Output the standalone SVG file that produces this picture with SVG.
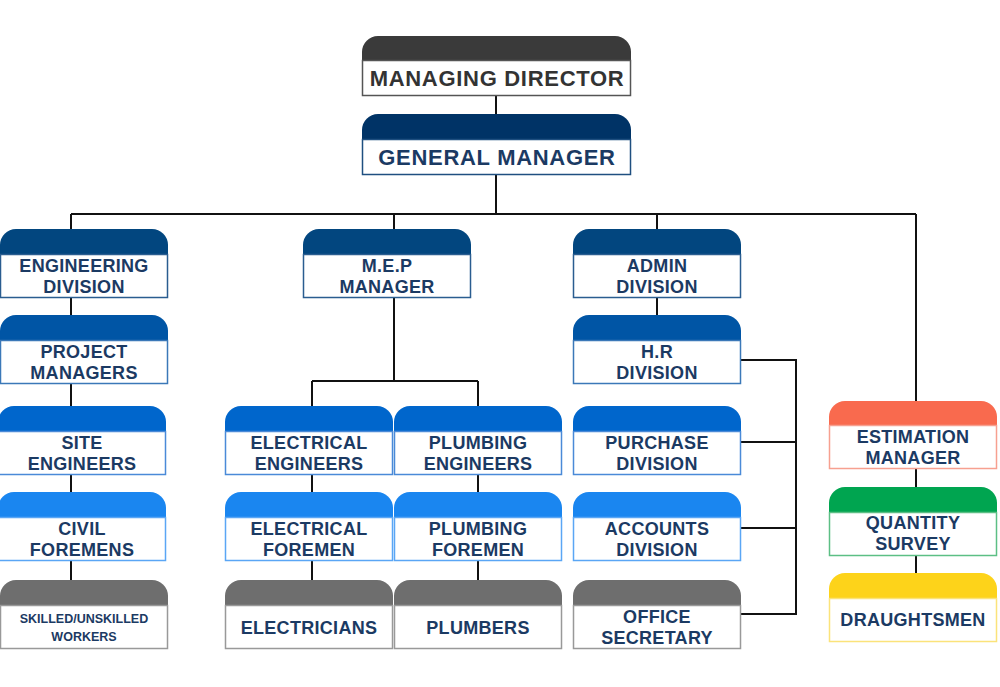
<svg xmlns="http://www.w3.org/2000/svg" width="1000" height="687" viewBox="0 0 1000 687">
<style>
text{font-family:"Liberation Sans",Arial,sans-serif;font-weight:bold;font-size:18px;letter-spacing:0.3px;fill:#1b3a63;text-anchor:middle}
.big{font-size:22px;letter-spacing:0.7px}
.box{fill:#fff;stroke-width:1.5}
#conn path{fill:none;stroke:#111;stroke-width:2}
</style>
<defs>
<path id="h" d="M0,25 V16 A16,16 0 0 1 16,0 H152 A16,16 0 0 1 168,16 V25 Z"/>
<path id="hw" d="M0,25 V16 A16,16 0 0 1 16,0 H253 A16,16 0 0 1 269,16 V25 Z"/>
</defs>
<g id="conn">
<path d="M496,96V114M496,175V214M71,214H916M71,214V229M394,214V229M657,214V229M916,214V401"/>
<path d="M71,298V580M394,298V381M312,381H478M312,381V406M478,381V406M312,475V580M478,475V580"/>
<path d="M657,298V315M741,360H796V614H741M741,442H796M741,528H796M916,469V573"/>
</g>
<g id="md"><use href="#hw" x="362" y="36" fill="#3a3a3a"/><rect class="box" x="362.5" y="60.5" width="268" height="35" stroke="#555"/><text class="big" x="497" y="86" style="fill:#333">MANAGING DIRECTOR</text></g>
<g id="gm"><use href="#hw" x="362" y="114" fill="#003366"/><rect class="box" x="362.5" y="139.5" width="268" height="35" stroke="#1f4f80"/><text class="big" x="497" y="165">GENERAL MANAGER</text></g>

<g id="eng"><use href="#h" x="0" y="229" fill="#02467f"/><rect class="box" x="0.5" y="254.5" width="167" height="43" stroke="#2a5d90"/><text x="84" y="272">ENGINEERING</text><text x="84" y="293">DIVISION</text></g>
<g id="mep"><use href="#h" x="303" y="229" fill="#02467f"/><rect class="box" x="303.5" y="254.5" width="167" height="43" stroke="#2a5d90"/><text x="387" y="272">M.E.P</text><text x="387" y="293">MANAGER</text></g>
<g id="admin"><use href="#h" x="573" y="229" fill="#02467f"/><rect class="box" x="573.5" y="254.5" width="167" height="43" stroke="#2a5d90"/><text x="657" y="272">ADMIN</text><text x="657" y="293">DIVISION</text></g>

<g id="pm"><use href="#h" x="0" y="315" fill="#0055a5"/><rect class="box" x="0.5" y="340.5" width="167" height="43" stroke="#3b78b8"/><text x="84" y="358">PROJECT</text><text x="84" y="379">MANAGERS</text></g>
<g id="hr"><use href="#h" x="573" y="315" fill="#0055a5"/><rect class="box" x="573.5" y="340.5" width="167" height="43" stroke="#3b78b8"/><text x="657" y="358">H.R</text><text x="657" y="379">DIVISION</text></g>

<g id="site"><use href="#h" x="-2" y="406" fill="#0066cc"/><rect class="box" x="-1.5" y="431.5" width="167" height="43" stroke="#4a8ad8"/><text x="82" y="449">SITE</text><text x="82" y="470">ENGINEERS</text></g>
<g id="eleceng"><use href="#h" x="225" y="406" fill="#0066cc"/><rect class="box" x="225.5" y="431.5" width="167" height="43" stroke="#4a8ad8"/><text x="309" y="449">ELECTRICAL</text><text x="309" y="470">ENGINEERS</text></g>
<g id="plumbeng"><use href="#h" x="394" y="406" fill="#0066cc"/><rect class="box" x="394.5" y="431.5" width="167" height="43" stroke="#4a8ad8"/><text x="478" y="449">PLUMBING</text><text x="478" y="470">ENGINEERS</text></g>
<g id="purchase"><use href="#h" x="573" y="406" fill="#0066cc"/><rect class="box" x="573.5" y="431.5" width="167" height="43" stroke="#4a8ad8"/><text x="657" y="449">PURCHASE</text><text x="657" y="470">DIVISION</text></g>

<g id="civil"><use href="#h" x="-2" y="492" fill="#1a86f0"/><rect class="box" x="-1.5" y="517.5" width="167" height="43" stroke="#5aa6f5"/><text x="82" y="535">CIVIL</text><text x="82" y="556">FOREMENS</text></g>
<g id="elecfor"><use href="#h" x="225" y="492" fill="#1a86f0"/><rect class="box" x="225.5" y="517.5" width="167" height="43" stroke="#5aa6f5"/><text x="309" y="535">ELECTRICAL</text><text x="309" y="556">FOREMEN</text></g>
<g id="plumbfor"><use href="#h" x="394" y="492" fill="#1a86f0"/><rect class="box" x="394.5" y="517.5" width="167" height="43" stroke="#5aa6f5"/><text x="478" y="535">PLUMBING</text><text x="478" y="556">FOREMEN</text></g>
<g id="accounts"><use href="#h" x="573" y="492" fill="#1a86f0"/><rect class="box" x="573.5" y="517.5" width="167" height="43" stroke="#5aa6f5"/><text x="657" y="535">ACCOUNTS</text><text x="657" y="556">DIVISION</text></g>

<g id="workers"><use href="#h" x="0" y="580" fill="#6e6e6e"/><rect class="box" x="0.5" y="605.5" width="167" height="43" stroke="#999"/><text x="84" y="623" style="font-size:12.5px;letter-spacing:0">SKILLED/UNSKILLED</text><text x="84" y="641" style="font-size:12.5px;letter-spacing:0">WORKERS</text></g>
<g id="electricians"><use href="#h" x="225" y="580" fill="#6e6e6e"/><rect class="box" x="225.5" y="605.5" width="167" height="43" stroke="#999"/><text x="309" y="634">ELECTRICIANS</text></g>
<g id="plumbers"><use href="#h" x="394" y="580" fill="#6e6e6e"/><rect class="box" x="394.5" y="605.5" width="167" height="43" stroke="#999"/><text x="478" y="634">PLUMBERS</text></g>
<g id="office"><use href="#h" x="573" y="580" fill="#6e6e6e"/><rect class="box" x="573.5" y="605.5" width="167" height="43" stroke="#999"/><text x="657" y="623">OFFICE</text><text x="657" y="644">SECRETARY</text></g>

<g id="est"><use href="#h" x="829" y="401" fill="#f96a4e"/><rect class="box" x="829.5" y="425.5" width="167" height="43" stroke="#f7a090"/><text x="913" y="443">ESTIMATION</text><text x="913" y="464">MANAGER</text></g>
<g id="qs"><use href="#h" x="829" y="487" fill="#00a550"/><rect class="box" x="829.5" y="512.5" width="167" height="43" stroke="#5cbf85"/><text x="913" y="529">QUANTITY</text><text x="913" y="550">SURVEY</text></g>
<g id="draught"><use href="#h" x="829" y="573" fill="#fdd31a"/><rect class="box" x="829.5" y="598.5" width="167" height="43" stroke="#fbe37a"/><text x="913" y="626">DRAUGHTSMEN</text></g>
</svg>
